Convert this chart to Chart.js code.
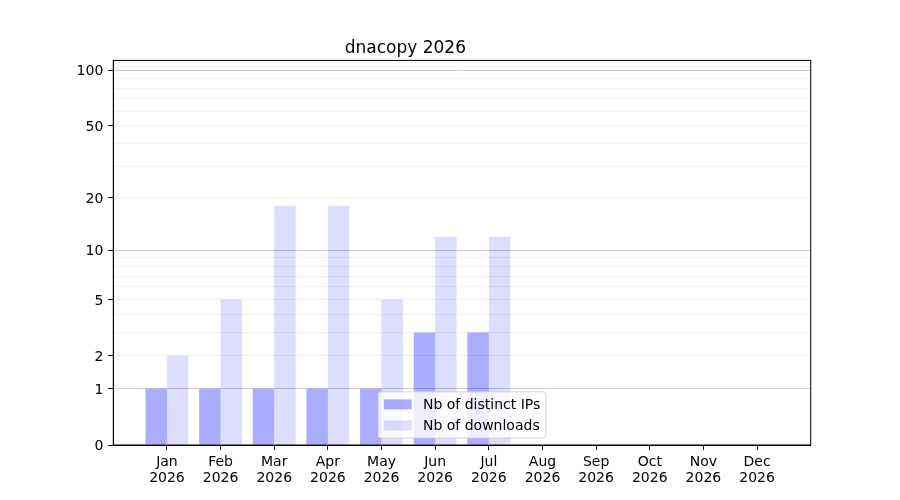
<!DOCTYPE html>
<html>
<head>
<meta charset="utf-8">
<script src="https://cdn.jsdelivr.net/npm/chart.js@4/dist/chart.umd.min.js"></script>
<style>
  html, body { margin: 0; padding: 0; background: #fff; }
</style>
</head>
<body>
<canvas id="chart" width="900" height="500"></canvas>
<script>
// Chart data
const months = ["Jan", "Feb", "Mar", "Apr", "May", "Jun", "Jul", "Aug", "Sep", "Oct", "Nov", "Dec"];
const year = "2026";
const distinctIPs = [1, 1, 1, 1, 1, 3, 3, 0, 0, 0, 0, 0];
const downloads = [2, 5, 18, 18, 5, 12, 12, 0, 0, 0, 0, 0];

// y axis ticks (log(1 + x) scale)
const yTicks = [0, 1, 2, 3, 4, 5, 6, 7, 8, 9, 10, 20, 30, 40, 50, 60, 70, 80, 90, 100];
const yLabeled = [0, 1, 2, 5, 10, 20, 50, 100];
const yMajor = [1, 10, 100];
const yMax = 112.8;

// Scale that maps values through log10(1 + v)
class Log1pScale extends Chart.LinearScale {
    buildTicks() {
        return yTicks.map(v => ({ value: v }));
    }
    toLog(v) {
        return Math.log10(1 + v);
    }
    getPixelForValue(value) {
        const a = this.toLog(this.min), b = this.toLog(this.max);
        return this.getPixelForDecimal((this.toLog(value) - a) / (b - a));
    }
    getValueForPixel(pixel) {
        const a = this.toLog(this.min), b = this.toLog(this.max);
        return Math.pow(10, a + this.getDecimalForPixel(pixel) * (b - a)) - 1;
    }
}
Log1pScale.id = 'log1p';
Log1pScale.defaults = Chart.LinearScale.defaults;
Chart.register(Log1pScale);

// Box around the plot area (top and right spines too)
const frame = {
    id: 'frame',
    afterDatasetsDraw(chart) {
        const { ctx, chartArea } = chart;
        ctx.save();
        ctx.strokeStyle = '#000';
        ctx.lineWidth = 1;
        ctx.strokeRect(chartArea.left, chartArea.top, chartArea.right - chartArea.left, chartArea.bottom - chartArea.top);
        ctx.restore();
    }
};

// Legend drawn inside the plot, lower center
const innerLegend = {
    id: 'innerLegend',
    afterDraw(chart) {
        const { ctx, chartArea } = chart;
        const sets = chart.data.datasets;
        const fs = 14, pad = 5.6, handle = 28, gap = 11.2, rowGap = 7;
        ctx.save();
        ctx.font = fs + 'px "DejaVu Sans"';
        let textW = 0;
        sets.forEach(ds => { textW = Math.max(textW, ctx.measureText(ds.label).width); });
        const w = pad * 2 + handle + gap + textW;
        const h = pad * 2 + sets.length * fs + (sets.length - 1) * rowGap;
        const x = (chartArea.left + chartArea.right) / 2 - w / 2;
        const y = chartArea.bottom - 7 - h;

        ctx.beginPath();
        ctx.roundRect(x, y, w, h, 3);
        ctx.fillStyle = 'rgba(255,255,255,0.8)';
        ctx.fill();
        ctx.strokeStyle = 'rgba(204,204,204,0.8)';
        ctx.lineWidth = 1;
        ctx.stroke();

        sets.forEach((ds, i) => {
            const rowY = y + pad + i * (fs + rowGap);
            ctx.fillStyle = ds.backgroundColor;
            ctx.fillRect(x + pad, rowY + 2, handle, 10);
            ctx.fillStyle = '#000';
            ctx.textBaseline = 'middle';
            ctx.fillText(ds.label, x + pad + handle + gap, rowY + fs / 2 + 1);
        });
        ctx.restore();
    }
};

Chart.defaults.font.family = '"DejaVu Sans"';
Chart.defaults.font.size = 14;
Chart.defaults.color = '#000';

function buildPoints(values) {
    return values.map((v, i) => ({ x: i, y: v }));
}

const ctx = document.getElementById('chart').getContext('2d');
new Chart(ctx, {
    type: 'bar',
    data: {
        datasets: [{
            label: 'Nb of distinct IPs',
            data: buildPoints(distinctIPs),
            backgroundColor: 'rgba(0,0,255,0.33)'
        }, {
            label: 'Nb of downloads',
            data: buildPoints(downloads),
            backgroundColor: 'rgba(0,0,255,0.135)'
        }]
    },
    options: {
        responsive: false,
        animation: false,
        events: [],
        layout: { padding: { left: 0, right: 89.3, top: 0, bottom: 0 } },
        datasets: {
            bar: { categoryPercentage: 0.8, barPercentage: 1.0 }
        },
        plugins: {
            legend: { display: false },
            tooltip: { enabled: false },
            title: {
                display: true,
                text: 'dnacopy 2026',
                font: { size: 17, weight: 'normal' },
                padding: { top: 38, bottom: 2 }
            }
        },
        scales: {
            x: {
                type: 'linear',
                min: -1,
                max: 12,
                offset: false,
                afterBuildTicks: scale => {
                    scale.ticks = scale.ticks.filter(t => t.value >= 0 && t.value <= 11);
                },
                afterFit: scale => { scale.height = 55; },
                ticks: {
                    stepSize: 1,
                    maxRotation: 0,
                    autoSkip: false,
                    padding: 5,
                    font: { lineHeight: 1.12 },
                    callback: value => [months[value], year]
                },
                grid: { offset: false, drawOnChartArea: false, tickLength: 5, tickColor: '#000' },
                border: { color: '#000', width: 1 }
            },
            y: {
                type: 'log1p',
                min: 0,
                max: yMax,
                afterFit: scale => { scale.width = 113.3; },
                ticks: {
                    autoSkip: false,
                    padding: 5,
                    labelOffset: 1.5,
                    callback: value => yLabeled.includes(value) ? String(value) : ''
                },
                grid: {
                    tickLength: 5,
                    color: c => c.tick && c.tick.value === 0 ? 'rgba(0,0,0,0)' : (c.tick && yMajor.includes(c.tick.value) ? '#cccccc' : '#eeeeee'),
                    tickColor: c => c.tick && yLabeled.includes(c.tick.value) ? '#000' : 'rgba(0,0,0,0)'
                },
                border: { color: '#000', width: 1 }
            }
        }
    },
    plugins: [frame, innerLegend]
});
</script>
</body>
</html>
